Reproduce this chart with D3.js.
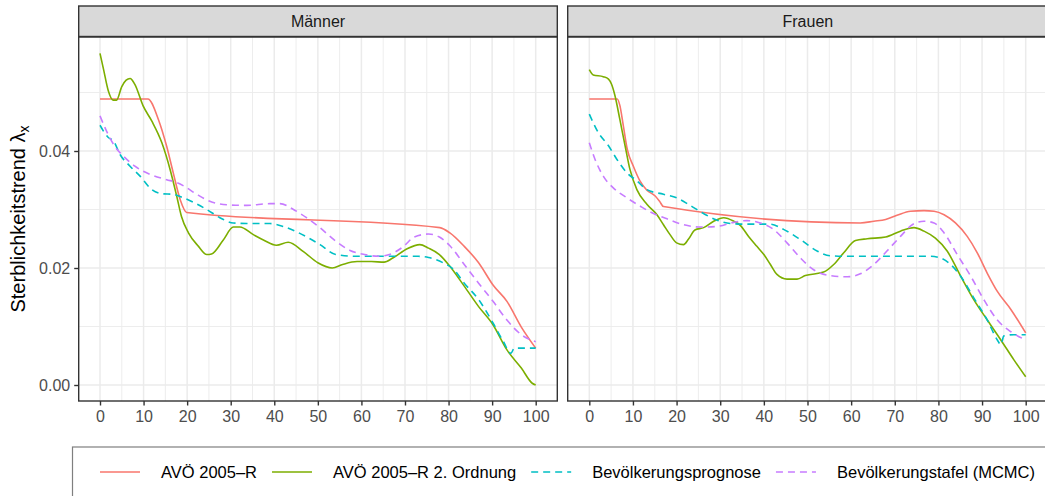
<!DOCTYPE html>
<html><head><meta charset="utf-8">
<script src="https://cdn.jsdelivr.net/npm/d3@7"></script>
<style>body{margin:0;background:#fff}svg{display:block;font-family:"Liberation Sans",Arial,sans-serif}</style>
</head><body><svg id="c" width="1045" height="496"></svg>
<script>
// ---- data ----
const panels = ["Männer", "Frauen"];
const seriesNames = ["AVÖ 2005–R", "AVÖ 2005–R 2. Ordnung", "Bevölkerungsprognose", "Bevölkerungstafel (MCMC)"];
const xTicks = [0,10,20,30,40,50,60,70,80,90,100];
const yTicks = [0, 0.02, 0.04];
const yTickLabels = ["0.00", "0.02", "0.04"];

const maleAvo = [[0,.0489],[11,.0489],[13.4,.0454],[15.3,.0408],[16.8,.0363],[18.4,.0317],[19.9,.0295],[78,.0269],[80.3,.026],[83.6,.0237],[86.9,.0209],[90.2,.0171],[93.4,.0143],[96.7,.0099],[100,.0063]];
const maleAvo2 = [[0,.0567],[0.8,.054],[1.9,.0503],[3,.0487],[3.8,.0487],[5,.051],[6,.0521],[6.9,.0524],[8,.0514],[9.9,.0477],[11.9,.0451],[14.2,.0414],[16.1,.0368],[17.6,.0323],[18.7,.0288],[20.3,.026],[22.6,.0237],[24.5,.0223],[25.6,.0224],[28.3,.0248],[30.6,.027],[32.1,.027],[35.2,.0257],[37.5,.0248],[40.5,.0239],[43.2,.0244],[46.7,.0228],[50,.0209],[53.3,.02],[55.7,.0206],[59,.0211],[62.3,.0211],[65.2,.021],[67.2,.0217],[70.5,.0233],[73.4,.024],[75.4,.0234],[77.9,.0223],[80.3,.0203],[83.6,.0169],[86.9,.0134],[90.2,.0103],[93.4,.006],[96.7,.0029],[99.2,.0003],[100,0]];
const maleProg = [[0,.0444],[1.9,.0423],[3.1,.0417],[4.6,.0394],[6.9,.0374],[9.2,.0357],[11.9,.0334],[14.2,.0327],[16.8,.0326],[19.1,.032],[21.8,.0311],[24.5,.03],[27.5,.0286],[30.6,.0277],[33.7,.0276],[39,.0276],[42.1,.0271],[45.1,.0262],[48.2,.025],[50.5,.024],[54.1,.0223],[59,.022],[73,.022],[75.4,.0218],[78.7,.0209],[81.1,.0198],[83.6,.0174],[86.9,.0146],[90.2,.0106],[92.6,.0074],[94.3,.0054],[95.1,.0063],[100,.0063]];
const maleMcmc = [[0,.046],[1.5,.0434],[3.4,.0408],[5.4,.0391],[8,.0374],[11.5,.036],[15.3,.0351],[17.6,.0346],[19.5,.0339],[22.2,.0326],[25.2,.0314],[29.1,.0308],[33.7,.0307],[39,.031],[41.3,.031],[44.4,.03],[47.4,.0286],[50.3,.027],[54.1,.0246],[57.4,.023],[60.7,.0223],[63.9,.022],[66.4,.0223],[69.7,.0237],[72.1,.0253],[75.4,.0258],[77.9,.0253],[80.3,.0238],[83.6,.0206],[86.9,.0174],[90.2,.0143],[93.4,.0111],[96.7,.0086],[100,.0074]];

const femAvo = [[0,.0489],[6.4,.0489],[7,.0478],[7.8,.0443],[8.7,.0403],[10.1,.0374],[11.6,.0349],[13.2,.0333],[15.1,.0323],[16.1,.0314],[17,.0305],[62.1,.0277],[65.2,.028],[67.9,.0283],[70.5,.029],[73.6,.0297],[76.7,.0298],[79,.0297],[81.3,.0291],[83.9,.0277],[86.6,.0254],[88.9,.0226],[91.2,.0191],[93.5,.016],[96.6,.0129],[100,.0089]];
const femAvo2 = [[0,.0539],[0.9,.053],[3.2,.0527],[4.4,.0523],[5.1,.0514],[5.9,.0494],[7,.0454],[8.2,.0409],[9.3,.0369],[10.9,.0334],[13.2,.0309],[15.5,.0291],[17,.0274],[18.5,.0257],[20,.0243],[21.6,.024],[22.7,.0249],[24.2,.0265],[26.2,.0269],[28.5,.028],[30.8,.0286],[33.1,.028],[34.6,.0273],[36.5,.0254],[38.4,.0237],[40,.0223],[41.5,.0206],[43,.0189],[45.3,.0181],[47.6,.0181],[49.5,.0187],[53.7,.0193],[56,.0206],[58.3,.0226],[61,.0247],[63.7,.025],[67.9,.0253],[71.3,.0263],[74.4,.0269],[76.7,.0263],[79.3,.0251],[82,.0229],[85.1,.0186],[88.1,.0146],[91.2,.0111],[94.3,.0077],[97.3,.0043],[100,.0014]];
const femProg = [[0,.0463],[2.1,.0431],[4.4,.0409],[6.3,.0386],[8.6,.0363],[10.9,.0349],[13.2,.0334],[17,.0326],[20,.032],[23.1,.0307],[26.2,.0293],[29.2,.0282],[32.3,.0276],[36.1,.0275],[41.5,.0275],[44.5,.0266],[48.3,.0249],[52.2,.0229],[55.2,.0221],[59.8,.022],[78.2,.022],[80.5,.0217],[82.8,.0206],[85.1,.0186],[88.1,.0149],[91.2,.0111],[93.5,.0077],[94.3,.0069],[95,.0084],[97.3,.0086],[100,.0086]];
const femMcmc = [[0,.0414],[1.3,.0386],[3.2,.0357],[5.5,.0337],[8.6,.032],[11.6,.0306],[14.7,.0293],[17.8,.0284],[21.6,.0274],[25.4,.027],[29.2,.0271],[33.1,.0278],[36.1,.0281],[39.2,.0277],[42.2,.0266],[45.3,.0243],[48.4,.0217],[51.4,.0197],[55.2,.0187],[59.1,.0185],[62.1,.019],[65.2,.0206],[68.2,.0229],[71.3,.0254],[74,.0274],[76.7,.028],[79,.0277],[81.3,.026],[84.3,.0223],[87.4,.0186],[90.4,.0146],[93.5,.0111],[96.6,.0091],[100,.0077]];

const panelData = [[maleAvo, maleAvo2, maleProg, maleMcmc], [femAvo, femAvo2, femProg, femMcmc]];
const colors = ["#F8766D", "#7CAE00", "#00BFC4", "#C77CFF"];
const dashes = [null, null, "7,5", "7,5"];

// ---- layout ----
const svg = d3.select("#c");
const FONT = '"Liberation Sans",Arial,sans-serif';
const yTop = 37, yBot = 401, stripTop = 6;
const panelBox = [{x0: 78.7, x1: 557.3, r0: 100, r1: 535.7}, {x0: 567.7, x1: 1048, r0: 589.3, r1: 1025.7}];
const y = d3.scaleLinear().domain([0, 0.04]).range([385, 151]);
const minorY = [0.01, 0.03, 0.05];
const minorX = [5,15,25,35,45,55,65,75,85,95];

panelBox.forEach((pb, i) => {
  const x = d3.scaleLinear().domain([0, 100]).range([pb.r0, pb.r1]);
  const g = svg.append("g");
  g.append("rect").attr("x", pb.x0).attr("y", yTop).attr("width", pb.x1 - pb.x0).attr("height", yBot - yTop).attr("fill", "#fff");
  // grid
  g.selectAll(".mx").data(minorX).join("line").attr("x1", d => x(d)).attr("x2", d => x(d)).attr("y1", yTop).attr("y2", yBot).attr("stroke", "#ebebeb").attr("stroke-width", 0.9);
  g.selectAll(".my").data(minorY).join("line").attr("class","my").attr("y1", d => y(d)).attr("y2", d => y(d)).attr("x1", pb.x0).attr("x2", pb.x1).attr("stroke", "#ebebeb").attr("stroke-width", 0.9);
  g.selectAll(".gx").data(xTicks).join("line").attr("class","gx").attr("x1", d => x(d)).attr("x2", d => x(d)).attr("y1", yTop).attr("y2", yBot).attr("stroke", "#ebebeb").attr("stroke-width", 1.5);
  g.selectAll(".gy").data(yTicks).join("line").attr("class","gy").attr("y1", d => y(d)).attr("y2", d => y(d)).attr("x1", pb.x0).attr("x2", pb.x1).attr("stroke", "#ebebeb").attr("stroke-width", 1.5);
  // clip
  const cid = "clip" + i;
  svg.append("clipPath").attr("id", cid).append("rect").attr("x", pb.x0).attr("y", yTop).attr("width", pb.x1 - pb.x0).attr("height", yBot - yTop);
  const line = d3.line().x(d => x(d[0])).y(d => y(d[1])).curve(d3.curveMonotoneX);
  const lg = g.append("g").attr("clip-path", `url(#${cid})`);
  panelData[i].forEach((s, k) => {
    lg.append("path").attr("d", line(s)).attr("fill", "none").attr("stroke", colors[k]).attr("stroke-width", 1.6)
      .attr("stroke-dasharray", dashes[k]).attr("stroke-linejoin", "round");
  });
  // border
  g.append("rect").attr("x", pb.x0).attr("y", yTop).attr("width", pb.x1 - pb.x0).attr("height", yBot - yTop).attr("fill", "none").attr("stroke", "#333").attr("stroke-width", 1.4);
  // strip
  g.append("rect").attr("x", pb.x0).attr("y", stripTop).attr("width", pb.x1 - pb.x0).attr("height", 30.5).attr("fill", "#d9d9d9").attr("stroke", "#333").attr("stroke-width", 1.4);
  g.append("text").attr("x", (pb.x0 + pb.x1) / 2).attr("y", 27).attr("text-anchor", "middle")
    .attr("font-size", 16).attr("fill", "#1a1a1a").text(panels[i]);
  // x axis
  const xa = g.append("g").attr("transform", `translate(0,${yBot})`).call(d3.axisBottom(x).tickValues(xTicks).tickSize(4.5).tickSizeOuter(0).tickPadding(5));
  xa.select(".domain").remove();
  xa.selectAll(".tick line").attr("stroke", "#333").attr("stroke-width", 1.4);
  xa.selectAll(".tick text").attr("font-size", 16).attr("fill", "#4d4d4d").attr("font-family", FONT);
  if (i === 0) {
    const ya = g.append("g").attr("transform", `translate(${pb.x0},0)`).call(d3.axisLeft(y).tickValues(yTicks).tickFormat((d, j) => yTickLabels[j]).tickSize(4.5).tickSizeOuter(0).tickPadding(4));
    ya.select(".domain").remove();
    ya.selectAll(".tick line").attr("stroke", "#333").attr("stroke-width", 1.4);
    ya.selectAll(".tick text").attr("font-size", 16).attr("fill", "#4d4d4d").attr("font-family", FONT);
  }
});

// y title
const yt = svg.append("text").attr("transform", "translate(24.5,219) rotate(-90)").attr("text-anchor", "middle").attr("font-size", 20).attr("fill", "#000");
yt.append("tspan").text("Sterblichkeitstrend λ");
yt.append("tspan").attr("font-size", 14).attr("dy", 4).text("x");

// legend
svg.append("rect").attr("x", 72.5).attr("y", 447).attr("width", 1000).attr("height", 80).attr("fill", "#fff").attr("stroke", "#7f7f7f").attr("stroke-width", 1.2);
let lx = 100;
seriesNames.forEach((nm, k) => {
  svg.append("line").attr("x1", lx).attr("x2", lx + 40).attr("y1", 472).attr("y2", 472).attr("stroke", colors[k]).attr("stroke-width", 1.6).attr("stroke-dasharray", dashes[k]);
  const t = svg.append("text").attr("x", lx + 61).attr("y", 478).attr("font-size", 16.5).attr("fill", "#000").text(nm);
  lx = lx + 61 + t.node().getComputedTextLength() + 15;
});
</script></body></html>
